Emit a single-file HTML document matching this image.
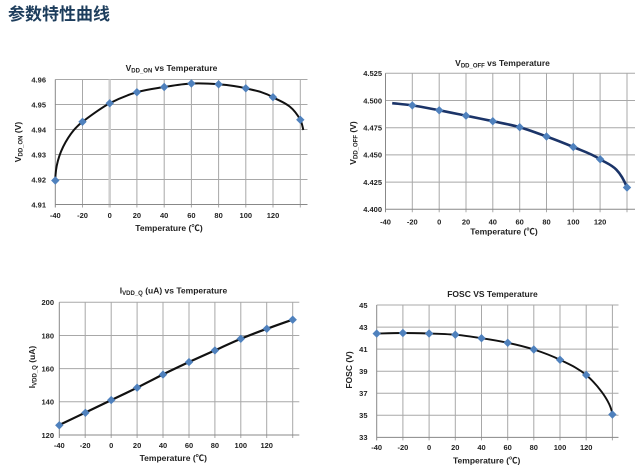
<!DOCTYPE html>
<html><head><meta charset="utf-8"><style>
html,body{margin:0;padding:0;background:#fff;}
svg{display:block;}
text{font-family:"Liberation Sans","Noto Sans CJK SC",sans-serif;fill:#222;}
.t{font-size:7.5px;font-weight:bold;}
.tt{font-size:8.5px;font-weight:bold;}
.g{stroke:#a8a8a8;stroke-width:1;fill:none;}
.ax{stroke:#888;stroke-width:1;fill:none;}
</style></head><body>
<svg width="639" height="474" viewBox="0 0 639 474" xmlns="http://www.w3.org/2000/svg">
<defs>
<path id="dm" d="M0,-4.2 L4.2,0 L0,4.2 L-4.2,0 Z" fill="#4f81bd"/>
</defs>
<text x="8" y="20" style="font-family:'Liberation Sans','Noto Sans CJK SC',sans-serif;font-size:17px;font-weight:bold;fill:#1d3d5c;">参数特性曲线</text>

<!-- ===== Chart 1 ===== -->
<g>
<path class="g" d="M55.3,79.5H307.5 M55.3,104.5H307.5 M55.3,129.5H307.5 M55.3,154.5H307.5 M55.3,179.5H307.5"/>
<path class="g" d="M82.5,79.5V207.5 M136.9,79.5V207.5 M164.2,79.5V207.5 M191.4,79.5V207.5 M218.6,79.5V207.5 M245.8,79.5V207.5 M273,79.5V207.5 M300.3,79.5V207.5"/>
<path d="M109.7,79.5V207.5" stroke="#cfcfcf" stroke-width="2.5"/>
<path class="ax" d="M55.3,79.5V207.5 M55.3,204.5H307.5"/>
<path d="M55.3,180.5 C55.4,150 73.4,128.6 82.5,121.8 C91.6,115 100.6,108.2 109.7,103.3 C118.8,98.4 127.8,94.9 136.9,92.2 C146,89.5 155.1,88.5 164.2,87 C173.3,85.55 182.3,83.95 191.4,83.5 C200.5,83.05 209.5,83.5 218.6,84.3 C227.7,85.1 236.7,86.1 245.8,88.3 C254.9,90.5 263.9,91.9 273,97.2 C282.1,102.5 291.2,103.4 300.3,119.8 C301.3,121.6 302.3,125 303.3,130" fill="none" stroke="#111" stroke-width="2"/>
<use href="#dm" x="55.3" y="180.5"/><use href="#dm" x="82.5" y="121.8"/><use href="#dm" x="109.7" y="103.3"/><use href="#dm" x="136.9" y="92.2"/><use href="#dm" x="164.2" y="87"/><use href="#dm" x="191.4" y="83.5"/><use href="#dm" x="218.6" y="84.3"/><use href="#dm" x="245.8" y="88.3"/><use href="#dm" x="273" y="97.2"/><use href="#dm" x="300.3" y="119.8"/>
<g class="t" text-anchor="end">
<text x="46" y="82.3">4.96</text><text x="46" y="107.3">4.95</text><text x="46" y="132.3">4.94</text><text x="46" y="157.3">4.93</text><text x="46" y="182.3">4.92</text><text x="46" y="207.3">4.91</text>
</g>
<g class="t" text-anchor="middle">
<text x="55.3" y="218">-40</text><text x="82.5" y="218">-20</text><text x="109.7" y="218">0</text><text x="136.9" y="218">20</text><text x="164.2" y="218">40</text><text x="191.4" y="218">60</text><text x="218.6" y="218">80</text><text x="245.8" y="218">100</text><text x="273" y="218">120</text>
</g>
<text class="tt" x="171.5" y="71" text-anchor="middle">V<tspan font-size="6" dy="1.5">DD_ON</tspan><tspan dy="-1.5"> vs Temperature</tspan></text>
<text class="tt" x="169" y="231" text-anchor="middle">Temperature (℃)</text>
<text class="tt" transform="translate(21,142) rotate(-90)" text-anchor="middle">V<tspan font-size="6" dy="1.5">DD_ON</tspan><tspan dy="-1.5"> (V)</tspan></text>
</g>

<!-- ===== Chart 2 ===== -->
<g>
<path class="g" d="M385.5,73.3H635 M385.5,100.5H635 M385.5,127.7H635 M385.5,154.9H635 M385.5,182.1H635"/>
<path class="g" d="M412.3,73.3V212.3 M439.2,73.3V212.3 M466,73.3V212.3 M492.8,73.3V212.3 M519.7,73.3V212.3 M546.5,73.3V212.3 M573.3,73.3V212.3 M600.1,73.3V212.3 M627,73.3V212.3"/>
<path class="ax" d="M385.5,73.3V212.3 M385.5,209.3H635"/>
<path d="M392.2,103.2 C398.9,103.9 405.6,104.4 412.3,105.4 C421.3,106.75 430.2,108.6 439.2,110.3 C448.1,112 457.1,113.9 466,115.7 C474.9,117.5 483.9,119.3 492.8,121.2 C501.8,123.1 510.7,124.7 519.7,127.2 C528.6,129.7 537.6,133.3 546.5,136.5 C555.4,139.7 564.4,143.25 573.3,147 C582.3,150.8 591.2,153.5 600.2,159.3 C609.1,165.1 618.1,165.2 627,187.5" fill="none" stroke="#1b3468" stroke-width="2.6"/>
<use href="#dm" x="412.3" y="105.4"/><use href="#dm" x="439.2" y="110.3"/><use href="#dm" x="466" y="115.7"/><use href="#dm" x="492.8" y="121.2"/><use href="#dm" x="519.7" y="127.2"/><use href="#dm" x="546.5" y="136.5"/><use href="#dm" x="573.3" y="147"/><use href="#dm" x="600.2" y="159.3"/><use href="#dm" x="627" y="187.5"/>
<g class="t" text-anchor="end">
<text x="382" y="76.1">4.525</text><text x="382" y="103.3">4.500</text><text x="382" y="130.5">4.475</text><text x="382" y="157.7">4.450</text><text x="382" y="184.9">4.425</text><text x="382" y="212.1">4.400</text>
</g>
<g class="t" text-anchor="middle">
<text x="385.5" y="224.5">-40</text><text x="412.3" y="224.5">-20</text><text x="439.2" y="224.5">0</text><text x="466" y="224.5">20</text><text x="492.8" y="224.5">40</text><text x="519.7" y="224.5">60</text><text x="546.5" y="224.5">80</text><text x="573.3" y="224.5">100</text><text x="600.1" y="224.5">120</text>
</g>
<text class="tt" x="502.5" y="66" text-anchor="middle">V<tspan font-size="6" dy="1.5">DD_OFF</tspan><tspan dy="-1.5"> vs Temperature</tspan></text>
<text class="tt" x="504" y="234.5" text-anchor="middle">Temperature (℃)</text>
<text class="tt" transform="translate(356,143) rotate(-90)" text-anchor="middle">V<tspan font-size="6" dy="1.5">DD_OFF</tspan><tspan dy="-1.5"> (V)</tspan></text>
</g>

<!-- ===== Chart 3 ===== -->
<g>
<path class="g" d="M59.3,302.3H299.3 M59.3,335.5H299.3 M59.3,368.6H299.3 M59.3,401.8H299.3"/>
<path class="g" d="M85.2,302.3V438 M111.2,302.3V438 M137.1,302.3V438 M163,302.3V438 M189,302.3V438 M214.9,302.3V438 M240.8,302.3V438 M266.7,302.3V438 M292.7,302.3V438"/>
<path class="ax" d="M59.3,302.3V438 M59.3,435H299.3"/>
<path d="M59.3,425 C68,420.8 76.6,416.8 85.2,412.6 C93.9,408.4 102.5,404.3 111.2,400.1 C119.8,396 128.5,391.9 137.1,387.7 C145.7,383.3 154.4,378.8 163,374.4 C171.7,370.1 180.3,366.1 189,362 C197.6,358.1 206.3,354.2 214.9,350.4 C223.5,346.5 232.2,342.5 240.8,338.8 C249.5,335.2 258.1,331.9 266.8,328.8 C275.4,325.8 284.1,322.5 292.7,319.7" fill="none" stroke="#111" stroke-width="2.2"/>
<use href="#dm" x="59.3" y="425.3"/><use href="#dm" x="85.4" y="412.8"/><use href="#dm" x="111.2" y="400.1"/><use href="#dm" x="137.1" y="387.7"/><use href="#dm" x="163" y="374.6"/><use href="#dm" x="189" y="362.1"/><use href="#dm" x="214.9" y="350.4"/><use href="#dm" x="240.8" y="338.8"/><use href="#dm" x="266.8" y="328.8"/><use href="#dm" x="292.7" y="319.7"/>
<g class="t" text-anchor="end">
<text x="54" y="305.1">200</text><text x="54" y="338.3">180</text><text x="54" y="371.4">160</text><text x="54" y="404.6">140</text><text x="54" y="437.8">120</text>
</g>
<g class="t" text-anchor="middle">
<text x="59.3" y="448">-40</text><text x="85.2" y="448">-20</text><text x="111.2" y="448">0</text><text x="137.1" y="448">20</text><text x="163" y="448">40</text><text x="189" y="448">60</text><text x="214.9" y="448">80</text><text x="240.8" y="448">100</text><text x="266.7" y="448">120</text>
</g>
<text class="tt" x="173.5" y="293.3" text-anchor="middle">I<tspan font-size="6" dy="1.5">VDD_Q</tspan><tspan dy="-1.5"> (uA) vs Temperature</tspan></text>
<text class="tt" x="173.3" y="461" text-anchor="middle">Temperature (℃)</text>
<text class="tt" transform="translate(35,367) rotate(-90)" text-anchor="middle">I<tspan font-size="6" dy="1.5">VDD_Q</tspan><tspan dy="-1.5"> (uA)</tspan></text>
</g>

<!-- ===== Chart 4 ===== -->
<g>
<path class="g" d="M376.7,305H618.5 M376.7,327.1H618.5 M376.7,349.1H618.5 M376.7,371.2H618.5 M376.7,393.3H618.5 M376.7,415.3H618.5"/>
<path class="g" d="M402.9,305V440.4 M429.1,305V440.4 M455.3,305V440.4 M481.5,305V440.4 M507.7,305V440.4 M533.8,305V440.4 M560,305V440.4 M586.2,305V440.4 M612.4,305V440.4"/>
<path class="ax" d="M376.7,305V440.4 M376.7,437.4H618.5"/>
<path d="M376.7,333.6 C385.4,333.34 394.2,333 402.9,333 C411.6,333 420.4,333.24 429.1,333.5 C437.8,333.76 446.6,334 455.3,334.7 C464,335.4 472.8,336.9 481.5,338.2 C490.2,339.5 499,340.97 507.7,342.8 C516.4,344.63 525.1,346.7 533.8,349.5 C542.5,352.3 551.3,355.5 560,359.8 C568.7,364.1 577.5,367.6 586.2,375 C594.9,382.4 610.5,400 612.4,414.5" fill="none" stroke="#111" stroke-width="1.9"/>
<use href="#dm" x="376.7" y="333.6"/><use href="#dm" x="402.9" y="333"/><use href="#dm" x="429.1" y="333.5"/><use href="#dm" x="455.3" y="334.7"/><use href="#dm" x="481.5" y="338.2"/><use href="#dm" x="507.7" y="342.8"/><use href="#dm" x="533.8" y="349.5"/><use href="#dm" x="560" y="359.8"/><use href="#dm" x="586.2" y="375"/><use href="#dm" x="612.4" y="414.5"/>
<g class="t" text-anchor="end">
<text x="367.5" y="307.8">45</text><text x="367.5" y="329.9">43</text><text x="367.5" y="351.9">41</text><text x="367.5" y="374">39</text><text x="367.5" y="396.1">37</text><text x="367.5" y="418.1">35</text><text x="367.5" y="440.2">33</text>
</g>
<g class="t" text-anchor="middle">
<text x="376.7" y="450">-40</text><text x="402.9" y="450">-20</text><text x="429.1" y="450">0</text><text x="455.3" y="450">20</text><text x="481.5" y="450">40</text><text x="507.7" y="450">60</text><text x="533.8" y="450">80</text><text x="560" y="450">100</text><text x="586.2" y="450">120</text>
</g>
<text class="tt" x="492.5" y="297" text-anchor="middle">FOSC  VS  Temperature</text>
<text class="tt" x="486.7" y="463.5" text-anchor="middle">Temperature (℃)</text>
<text class="tt" transform="translate(352,370) rotate(-90)" text-anchor="middle">FOSC  (V)</text>
</g>
</svg>
</body></html>
